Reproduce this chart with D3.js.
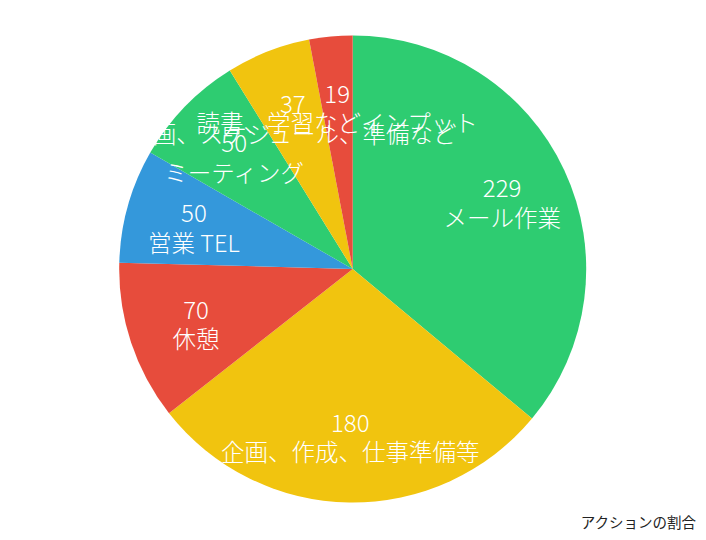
<!DOCTYPE html>
<html>
<head>
<meta charset="utf-8">
<script src="https://cdn.jsdelivr.net/npm/d3@7"></script>
<style>
  html, body { margin: 0; padding: 0; background: #fff; }
  svg { display: block; }
  text { font-family: "Noto Sans CJK JP", "Noto Sans", sans-serif; }
</style>
</head>
<body>
<svg id="chart" width="706" height="540"></svg>
<script>
const categories = ["メール作業", "企画、作成、仕事準備等", "休憩", "営業 TEL", "ミーティング", "企画、スケジュール、準備など", "読書、学習などインプット"];
const values = [229, 180, 70, 50, 50, 37, 19];
const colors = ["#2ecc71", "#f1c40f", "#e74c3c", "#3498db", "#2ecc71", "#f1c40f", "#e74c3c"];
const title = "アクションの割合";

const W = 706, H = 540;
const cx = 352.7, cy = 269, R = 233.5, labelR = 165;

const svg = d3.select("#chart");
const data = categories.map((c, i) => ({ name: c, value: values[i], color: colors[i] }));

const pie = d3.pie().value(d => d.value).sort(null);
const arcs = pie(data);
const arc = d3.arc().innerRadius(0).outerRadius(R);
const labelArc = d3.arc().innerRadius(labelR).outerRadius(labelR);

const g = svg.append("g").attr("transform", `translate(${cx},${cy})`);

g.selectAll("path.slice")
  .data(arcs)
  .join("path")
  .attr("class", "slice")
  .attr("d", arc)
  .attr("fill", d => d.data.color);

const labels = g.selectAll("g.label")
  .data(arcs)
  .join("g")
  .attr("class", "label")
  .attr("transform", d => `translate(${labelArc.centroid(d)})`);

labels.append("text")
  .attr("text-anchor", "middle")
  .attr("dominant-baseline", "central")
  .attr("y", -12.5)
  .attr("fill", "#fff")
  .style("font-size", "24px")
  .style("font-weight", 300)
  .text(d => d.data.value);

labels.append("text")
  .attr("text-anchor", "middle")
  .attr("dominant-baseline", "central")
  .attr("y", 17.5)
  .attr("fill", "#fff")
  .style("font-size", "23.5px")
  .style("font-weight", 300)
  .text(d => d.data.name);

svg.append("text")
  .attr("x", 696)
  .attr("y", 521)
  .attr("text-anchor", "end")
  .attr("dominant-baseline", "central")
  .attr("fill", "#222")
  .style("font-size", "14.5px")
  .text(title);
</script>
</body>
</html>
